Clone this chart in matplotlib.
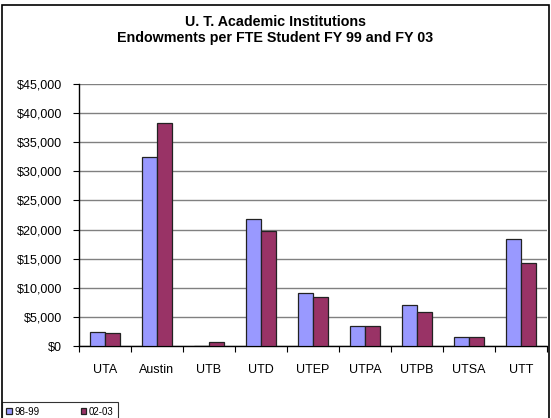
import matplotlib
matplotlib.use("Agg")
import matplotlib.pyplot as plt
import matplotlib.patches as mpatches
import numpy as np

W, H = 551, 418

campuses = ["UTA", "Austin", "UTB", "UTD", "UTEP", "UTPA", "UTPB", "UTSA", "UTT"]
fy99 = [2400, 32400, 0, 21850, 9100, 3500, 7000, 1600, 18300]
fy03 = [2170, 38250, 650, 19800, 8500, 3500, 5800, 1600, 14200]
series_names = ["98-99", "02-03"]
yticks = np.arange(0, 45001, 5000)

plt.rcParams['font.family'] = ['Liberation Sans', 'DejaVu Sans']

fig = plt.figure(figsize=(W / 100, H / 100), dpi=100)

# outer chart border
fig.patches.append(mpatches.Rectangle((2 / W, -0.01), (547 / W), 1 - 5 / H + 0.01,
                                      transform=fig.transFigure, fill=False,
                                      edgecolor='black', linewidth=1.2))

ax = fig.add_axes([79 / W, (H - 346) / H, (547 - 79) / W, (346 - 84) / H])

x = np.arange(len(campuses))
bw = 0.29
ax.bar(x - bw / 2, fy99, bw, color='#9999FF', edgecolor='#222222', linewidth=0.9,
       label=series_names[0], zorder=3)
ax.bar(x + bw / 2, fy03, bw, color='#993366', edgecolor='#222222', linewidth=0.9,
       label=series_names[1], zorder=3)

ax.set_xlim(-0.5, len(campuses) - 0.5)
ax.set_ylim(0, 45000)
ax.set_yticks(yticks)
ax.set_yticklabels(["${:,.0f}".format(v) for v in yticks], fontsize=9)
ax.yaxis.grid(True, color='#808080', linewidth=1.0, zorder=0)
ax.tick_params(axis='y', length=4, pad=8, width=0.8)

ax.set_xticks(x)
ax.set_xticklabels(campuses, fontsize=9)
ax.tick_params(axis='x', which='major', length=0, pad=13)
ax.set_xticks(np.arange(-0.5, len(campuses)), minor=True)
ax.tick_params(axis='x', which='minor', length=4, width=0.8)

for s in ['top', 'right']:
    ax.spines[s].set_visible(False)
ax.spines['left'].set_linewidth(1.0)
ax.spines['bottom'].set_linewidth(1.0)

fig.text(0.5, 1 - 22 / H, "U. T. Academic Institutions", ha='center', va='center',
         fontsize=10.3, fontweight='bold')
fig.text(0.5, 1 - 38 / H, "Endowments per FTE Student FY 99 and FY 03", ha='center',
         va='center', fontsize=10.3, fontweight='bold')

leg = fig.legend(loc='lower left', bbox_to_anchor=(2 / W, -3 / H), ncol=2,
                 fontsize=7, frameon=True, fancybox=False, handlelength=0.55,
                 handleheight=0.55, handletextpad=0.3, columnspacing=4.2,
                 borderpad=0.45, borderaxespad=0)
leg.get_frame().set_edgecolor('black')
leg.get_frame().set_linewidth(0.8)

fig.savefig("out.png", dpi=100)
